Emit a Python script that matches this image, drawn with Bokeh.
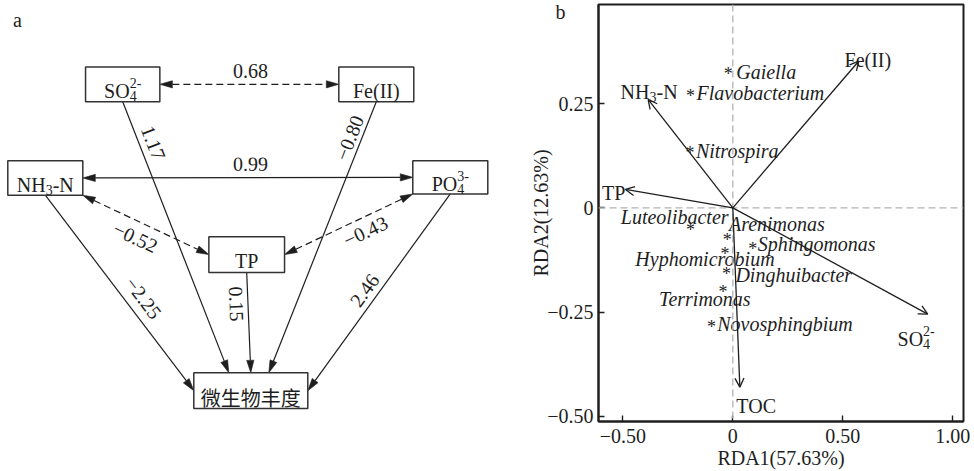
import math
from bokeh.plotting import figure
from bokeh.layouts import row
from bokeh.models import Range1d, Span, Arrow, OpenHead, FixedTicker, LinearAxis
from bokeh.embed import file_html
from bokeh.resources import INLINE
from bokeh.core.properties import value

# ------------------------------------------------------------------
# DATA
# ------------------------------------------------------------------
# panel a: path model (source -> target, standardized coefficient)
path_src = ["SO4", "NH3", "NH3", "PO4", "SO4", "Fe", "NH3", "PO4", "TP"]
path_dst = ["Fe", "PO4", "TP", "TP", "MB", "MB", "MB", "MB", "MB"]
path_coef = [0.68, 0.99, -0.52, -0.43, 1.17, -0.80, -2.25, 2.46, 0.15]
path_is_corr = [True, True, True, True, False, False, False, False, False]
path_dashed = [True, False, True, True, False, False, False, False, False]

# panel b: RDA biplot
env_keys = ["Fe", "NH3", "TP", "SO4", "TOC"]
env_rda1 = [0.573, -0.385, -0.488, 0.886, 0.032]
env_rda2 = [0.352, 0.260, 0.044, -0.255, -0.430]

genus_names = ["Gaiella", "Flavobacterium", "Nitrospira", "Luteolibacter", "Arenimonas",
               "Sphingomonas", "Hyphomicrobium", "Dinghuibacter", "Terrimonas", "Novosphingbium"]
genus_rda1 = [-0.021, -0.192, -0.195, -0.192, -0.025, 0.091, -0.036, -0.029, -0.045, -0.097]
genus_rda2 = [0.340, 0.289, 0.151, -0.034, -0.058, -0.078, -0.090, -0.138, -0.181, -0.265]

x_ticks = [-0.5, 0, 0.5, 1.0]
x_tick_labels = ["\u22120.50", "0", "0.50", "1.00"]
y_ticks = [-0.5, -0.25, 0, 0.25]
y_tick_labels = ["\u22120.50", "\u22120.25", "0", "0.25"]
x_title = "RDA1(57.63%)"
y_title = "RDA2(12.63%)"

# node / variable labels (main text, superscript, subscript pieces)
RICH = {
    "SO4": [("SO", "main"), ("2-", "sup"), ("4", "sub")],
    "PO4": [("PO", "main"), ("3-", "sup"), ("4", "sub")],
    "NH3": [("NH", "main"), ("3", "sub"), ("-N", "main")],
    "Fe": [("Fe(II)", "main")],
    "TP": [("TP", "main")],
    "TOC": [("TOC", "main")],
    "MB": [("微生物丰度", "cjk")],
}

# ------------------------------------------------------------------
# STYLE / LAYOUT
# ------------------------------------------------------------------
SERIF = "Liberation Serif"
CJK = "Noto Sans CJK SC"
INK = "#1e1e1e"
FS = 20
TOP, BOTTOM = 4, 48          # shared frame borders (rows align frames)
H = 471

W = {'S': .556, 'O': .722, 'N': .722, 'H': .722, 'P': .556, 'F': .556, 'e': .444,
     '(': .333, ')': .333, 'I': .333, 'T': .611, 'C': .667, '-': .333,
     '2': .5, '3': .5, '4': .5}


def tw(s):
    return sum(W.get(c, 0.5) for c in s)


def layout_rich(pieces, fs):
    sfs = round(fs * 0.7)
    out = []
    cur = 0.0
    i = 0
    while i < len(pieces):
        t, k = pieces[i]
        if k in ("sup", "sub"):
            grp = [pieces[i]]
            if i + 1 < len(pieces) and pieces[i + 1][1] in ("sup", "sub"):
                grp.append(pieces[i + 1])
                i += 1
            adv = 0
            for t2, k2 in grp:
                out.append((t2, cur, -0.4 * fs if k2 == "sup" else 0.25 * fs, sfs, SERIF))
                adv = max(adv, tw(t2) * sfs)
            cur += adv
        elif k == "cjk":
            out.append((t, cur, 0, fs, CJK))
            cur += len(t) * fs
        else:
            out.append((t, cur, 0, fs, SERIF))
            cur += tw(t) * fs
        i += 1
    return out, cur


def draw_rich(p, x, y, key, dx, dy, fs=FS):
    """Label centred horizontally at x+dx, baseline at y+dy (pixel offsets)."""
    pieces, total = layout_rich(RICH[key], fs)
    for t, px, py, f, font in pieces:
        p.text(x=[x], y=[y], text=[t], x_offset=dx - total / 2 + px, y_offset=dy + py,
               text_font=value(font), text_font_size=f"{f}px", text_color=INK,
               text_align="left", text_baseline="alphabetic")


def fmt(v):
    s = f"{abs(v):.2f}"
    return ("\u2212" + s) if v < 0 else s


# ------------------------------------------------------------------
# PANEL A  (data coordinates == page pixels)
# ------------------------------------------------------------------
NODE = {  # cx, cy, w, h
    "SO4": (122.2, 84.2, 74.3, 35),
    "Fe": (375.8, 84.2, 75, 35),
    "NH3": (44.8, 178.3, 75, 34.7),
    "PO4": (449.8, 177.7, 75, 33.3),
    "TP": (246.2, 255.3, 75.7, 36),
    "MB": (250.3, 392, 114, 36),
}
ANCH = [((1, 0), (-1, 0)), ((1, 0), (-1, 0)), ((1, 1), (-1, 0)), ((-1, 1), (1, 0)),
        ((0, 1), (-0.386, -1)), ((0, 1), (0.316, -1)), ((0, 1), (-1, 0)), ((0, 1), (1, 0)),
        ((0, 1), (0, -1))]
LABEL_POS = [(250, 71), (250, 164), (135, 238), (365, 232), (153, 143), (349, 138),
             (143, 299), (364, 291), (236, 305)]

PA_W = 500
pa = figure(width=PA_W, height=H, x_range=Range1d(0, PA_W), y_range=Range1d(H - BOTTOM, TOP),
            output_backend="svg", toolbar_location=None, x_axis_location=None,
            y_axis_location=None, min_border_left=0, min_border_right=0,
            min_border_top=TOP, min_border_bottom=BOTTOM, outline_line_color=None)
pa.xgrid.visible = False
pa.ygrid.visible = False


def anchor(n, f):
    cx, cy, w, h = NODE[n]
    return cx + f[0] * w / 2, cy + f[1] * h / 2


HL, HW = 12.5, 3.6
seg_solid = ([], [], [], [])
seg_dash = ([], [], [], [])
hx, hy = [], []
for i in range(len(path_coef)):
    sx, sy = anchor(path_src[i], ANCH[i][0])
    ex, ey = anchor(path_dst[i], ANCH[i][1])
    L = math.hypot(ex - sx, ey - sy)
    ux, uy = (ex - sx) / L, (ey - sy) / L
    heads = [(ex, ey, ux, uy)]
    if path_is_corr[i]:
        heads.append((sx, sy, -ux, -uy))
    for tx, ty, vx, vy in heads:
        bx, by = tx - HL * vx, ty - HL * vy
        hx.append([tx, bx - HW * vy, bx + HW * vy])
        hy.append([ty, by + HW * vx, by - HW * vx])
    s0x, s0y = (sx + HL * ux, sy + HL * uy) if path_is_corr[i] else (sx, sy)
    e0x, e0y = ex - HL * ux, ey - HL * uy
    tgt = seg_dash if path_dashed[i] else seg_solid
    tgt[0].append(s0x); tgt[1].append(s0y); tgt[2].append(e0x); tgt[3].append(e0y)

pa.segment(x0=seg_solid[0], y0=seg_solid[1], x1=seg_solid[2], y1=seg_solid[3],
           line_color=INK, line_width=1.2)
pa.segment(x0=seg_dash[0], y0=seg_dash[1], x1=seg_dash[2], y1=seg_dash[3],
           line_color=INK, line_width=1.2, line_dash="7 4")
pa.patches(xs=hx, ys=hy, fill_color=INK, line_color=INK, line_width=0.6)

for k, (cx, cy, w, h) in NODE.items():
    pa.quad(left=[cx - w / 2], right=[cx + w / 2], top=[cy - h / 2], bottom=[cy + h / 2],
            fill_color="white", line_color="#333333", line_width=1.5)
    draw_rich(pa, cx, cy, k, 0, 0.33 * FS)

# coefficient labels, rotated along their path
for i, v in enumerate(path_coef):
    sx, sy = anchor(path_src[i], ANCH[i][0])
    ex, ey = anchor(path_dst[i], ANCH[i][1])
    ang = math.atan2(-(ey - sy), ex - sx)
    if ang > math.pi / 2 + 1e-9:
        ang -= math.pi
    elif ang < -math.pi / 2 + 1e-9:
        ang += math.pi
    lx, ly = LABEL_POS[i]
    pa.text(x=[lx], y=[ly], text=[fmt(v)], angle=[ang], text_font=value(SERIF),
            text_font_size=f"{FS}px", text_color=INK, text_align="center",
            text_baseline="middle")

pa.text(x=[12.5], y=[20], text=["a"], text_font=value(SERIF), text_font_size=f"{FS}px",
        text_color=INK, text_align="left", text_baseline="alphabetic")

# ------------------------------------------------------------------
# PANEL B  (RDA biplot)
# ------------------------------------------------------------------
PB_W = 974 - PA_W
YR = (-0.5124, 0.4876)
pb = figure(width=PB_W, height=H, x_range=Range1d(-0.6105, 1.0486),
            y_range=Range1d(*YR), output_backend="svg", toolbar_location=None,
            min_border_left=98, min_border_right=11, min_border_top=TOP,
            min_border_bottom=BOTTOM)
pb.xgrid.visible = False
pb.ygrid.visible = False
pb.outline_line_color = INK
pb.outline_line_width = 2
pb.outline_line_alpha = 1

for ax, ticks, labs in ((pb.xaxis, x_ticks, x_tick_labels), (pb.yaxis, y_ticks, y_tick_labels)):
    ax.ticker = FixedTicker(ticks=ticks)
    ax.major_label_overrides = {t: l for t, l in zip(ticks, labs)}
    ax.major_tick_in = 6
    ax.major_tick_out = 0
    ax.minor_tick_line_color = None
    ax.major_tick_line_color = INK
    ax.major_tick_line_width = 1.4
    ax.axis_line_color = INK
    ax.axis_line_width = 2
    ax.major_label_text_font = SERIF
    ax.major_label_text_font_size = f"{FS}px"
    ax.major_label_text_color = INK
    ax.axis_label_text_font = SERIF
    ax.axis_label_text_font_size = f"{FS}px"
    ax.axis_label_text_font_style = "normal"
    ax.axis_label_text_color = INK
pb.xaxis.major_label_standoff = 7
pb.xaxis.axis_label_standoff = 1
pb.yaxis.major_label_standoff = 5
pb.yaxis.axis_label_standoff = -8
pb.xaxis.axis_label = x_title
pb.yaxis.axis_label = y_title

# panel letter "b": label-only outer axis, one tick 8 px below the frame top
b_tick = YR[1] - 8 / 419
letter_axis = LinearAxis(ticker=FixedTicker(ticks=[b_tick]),
                         major_label_overrides={b_tick: "b"},
                         axis_line_color=None, major_tick_line_color=None,
                         minor_tick_line_color=None, major_tick_in=0, major_tick_out=0,
                         major_label_standoff=-38, major_label_text_font=SERIF,
                         major_label_text_font_size=f"{FS}px", major_label_text_color=INK)
pb.add_layout(letter_axis, "left")

pb.add_layout(Span(location=0, dimension="height", line_color="#b3b3b3", line_width=1.3,
                   line_dash="7 4"))
pb.add_layout(Span(location=0, dimension="width", line_color="#b3b3b3", line_width=1.3,
                   line_dash="7 4"))

for x1, y1 in zip(env_rda1, env_rda2):
    pb.add_layout(Arrow(end=OpenHead(size=9, line_color=INK, line_width=1.3),
                        x_start=0, y_start=0, x_end=x1, y_end=y1,
                        line_color=INK, line_width=1.3))

ENV_OFF = {"Fe": (9, -1), "NH3": (1, -7.6), "TP": (-11.7, 4), "SO4": (-11.6, 25),
           "TOC": (16.5, 18.4)}
for k, x1, y1 in zip(env_keys, env_rda1, env_rda2):
    dx, dy = ENV_OFF[k]
    draw_rich(pb, x1, y1, k, dx, dy)

# genus scores
pb.text(x=genus_rda1, y=genus_rda2, text=["*"] * len(genus_names), text_font=value(SERIF),
        text_font_size="18px", text_color=INK, text_align="center",
        text_baseline="alphabetic", y_offset=8.4)
GEN_OFF = [("left", 8, 6), ("left", 6, 6), ("left", 6, 6), ("right", 38, -5),
           ("left", 1.6, -8.4), ("left", 5, 3.3), ("right", 49.7, 13.3), ("left", 9, 10),
           ("right", 27.7, 16), ("left", 5.7, 6)]
for name, gx, gy, (al, dx, dy) in zip(genus_names, genus_rda1, genus_rda2, GEN_OFF):
    pb.text(x=[gx], y=[gy], text=[name], x_offset=dx, y_offset=dy, text_font=value(SERIF),
            text_font_size=f"{FS}px", text_font_style="italic", text_color=INK,
            text_align=al, text_baseline="alphabetic")

layout = row(pa, pb)
open("out.html", "w").write(file_html(layout, INLINE))
